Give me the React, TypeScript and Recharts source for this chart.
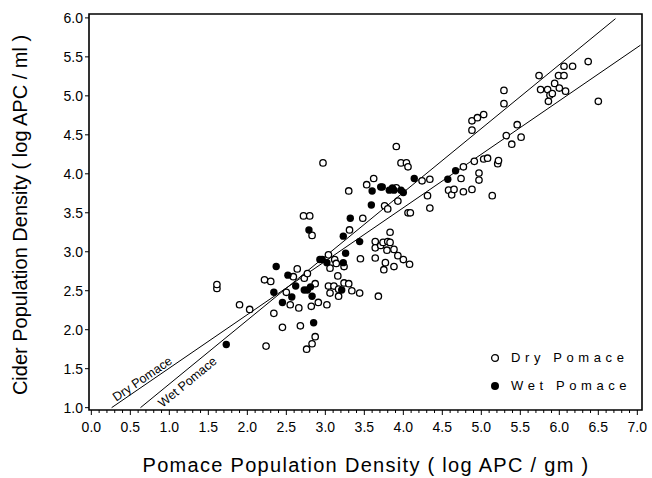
import React from "react";
import { ScatterChart, Scatter, XAxis, YAxis, ReferenceArea } from "recharts";

// Dry pomace samples (open circles): [pomace log APC/gm, cider log APC/ml]
const dryPoints: [number, number][] = [
  [1.61, 2.53], [1.61, 2.58], [1.9, 2.32], [2.03, 2.26], [2.24, 1.79], [2.22, 2.64], [2.3, 2.62],
  [2.34, 2.21], [2.45, 2.03], [2.5, 2.48], [2.55, 2.32], [2.59, 2.68], [2.64, 2.78], [2.66, 2.28],
  [2.68, 2.05], [2.72, 3.46], [2.8, 3.46], [2.73, 2.66], [2.77, 2.72], [2.76, 1.75], [2.82, 2.3],
  [2.83, 1.82], [2.83, 3.21], [2.87, 2.59], [2.87, 1.91], [2.91, 2.35], [2.97, 4.14], [3.02, 2.32],
  [3.04, 2.96], [3.04, 2.56], [3.06, 2.79], [3.06, 2.47], [3.11, 2.56], [3.12, 2.9], [3.14, 2.85],
  [3.16, 2.69], [3.17, 2.52], [3.17, 2.43], [3.24, 2.81], [3.24, 2.6], [3.3, 2.59], [3.3, 3.78],
  [3.31, 3.28], [3.34, 2.5], [3.44, 2.47], [3.45, 2.91], [3.48, 3.43], [3.53, 3.86], [3.62, 3.94],
  [3.64, 3.13], [3.64, 3.05], [3.64, 2.92], [3.68, 2.43], [3.71, 3.08], [3.74, 3.12], [3.75, 2.77],
  [3.76, 3.59], [3.77, 2.86], [3.79, 3.02], [3.8, 3.13], [3.8, 3.55], [3.83, 3.12], [3.83, 3.25],
  [3.88, 3.03], [3.88, 2.81], [3.91, 3.82], [3.91, 4.35], [3.93, 3.65], [3.93, 2.95], [3.97, 4.14],
  [4.0, 2.9], [4.04, 4.14], [4.06, 4.09], [4.06, 3.5], [4.08, 2.84], [4.09, 3.5], [4.24, 3.91],
  [4.31, 3.72], [4.34, 3.93], [4.34, 3.56], [4.58, 3.79], [4.62, 3.73], [4.65, 3.8], [4.74, 3.94],
  [4.77, 4.09], [4.77, 3.77], [4.88, 3.8], [4.88, 4.56], [4.88, 4.68], [4.91, 4.16], [4.95, 4.72],
  [4.97, 4.01], [4.97, 3.92], [5.03, 4.76], [5.03, 4.19], [5.08, 4.2], [5.14, 3.72], [5.21, 4.13],
  [5.22, 4.17], [5.29, 5.07], [5.29, 4.9], [5.32, 4.49], [5.39, 4.38], [5.46, 4.63], [5.51, 4.47],
  [5.74, 5.26], [5.76, 5.08], [5.85, 5.08], [5.86, 4.93], [5.88, 5.01], [5.91, 5.03], [5.94, 5.16],
  [5.99, 5.26], [6.0, 5.1], [6.06, 5.26], [6.06, 5.38], [6.08, 5.06], [6.17, 5.38], [6.37, 5.44],
  [6.5, 4.93],
];

// Wet pomace samples (filled circles)
const wetPoints: [number, number][] = [
  [1.73, 1.81], [2.37, 2.81], [2.52, 2.7], [2.34, 2.48], [2.62, 2.56], [2.73, 2.51], [2.77, 2.51],
  [2.81, 2.55], [2.93, 2.9], [2.96, 2.9], [3.02, 2.86], [2.45, 2.35], [2.57, 2.42], [2.83, 2.43],
  [2.85, 2.09], [2.79, 3.28], [3.26, 2.98], [3.23, 2.86], [3.21, 2.51], [3.23, 3.2], [3.44, 3.13],
  [3.32, 3.43], [3.59, 3.6], [3.6, 3.78], [3.71, 3.83], [3.73, 3.83], [3.82, 3.79], [3.86, 3.82],
  [3.88, 3.79], [3.97, 3.79], [4.0, 3.76], [4.14, 3.94], [4.57, 3.93], [4.67, 4.04],
];

// Regression line end points
const dryLine: [number, number][] = [[0.26, 1.0], [7.04, 5.65]];
const wetLine: [number, number][] = [[0.63, 1.0], [6.72, 5.99]];

// In-plot line labels
const lineLabels = [
  { x: 0.66, y: 1.36, text: "Dry Pomace", angle: -34.5 },
  { x: 1.24, y: 1.32, text: "Wet Pomace", angle: -39.5 },
];

const xMajorTicks = [0, 0.5, 1, 1.5, 2, 2.5, 3, 3.5, 4, 4.5, 5, 5.5, 6, 6.5, 7];
const yTicks = [1, 1.5, 2, 2.5, 3, 3.5, 4, 4.5, 5, 5.5, 6];
const xDomain: [number, number] = [-0.03, 7.06];
const yDomain: [number, number] = [0.97, 6.05];

// major ticks plus four minor ticks between each pair
const xAllTicks: number[] = [];
xMajorTicks.forEach((t, i) => {
  xAllTicks.push(t);
  if (i < xMajorTicks.length - 1) {
    for (let k = 1; k < 5; k++) xAllTicks.push(Math.round((t + k * 0.1) * 10) / 10);
  }
});

const toObj = (arr: [number, number][]) => arr.map(([x, y]) => ({ x, y }));

const FONT = "'Liberation Sans', Arial, Helvetica, sans-serif";

const XTick = (props: any) => {
  const { x, y, payload } = props;
  const v = payload.value as number;
  const major = xMajorTicks.some((m) => Math.abs(m - v) < 1e-6);
  return (
    <g>
      <line x1={x} x2={x} y1={y} y2={y + (major ? 5 : 3)} stroke="#000" strokeWidth={1} />
      {major && (
        <text x={x} y={y + 22} textAnchor="middle" fontSize={14} fontFamily={FONT} fill="#000">
          {v.toFixed(1)}
        </text>
      )}
    </g>
  );
};

const YTick = (props: any) => {
  const { x, y, payload } = props;
  const v = payload.value as number;
  return (
    <g>
      <line x1={x - 4} x2={x} y1={y} y2={y} stroke="#000" strokeWidth={1} />
      <text x={x - 6} y={y + 5} textAnchor="end" fontSize={14} fontFamily={FONT} fill="#000">
        {v.toFixed(1)}
      </text>
    </g>
  );
};

const OpenDot = (p: any) => (
  <circle cx={p.cx} cy={p.cy} r={3.2} fill="#fff" stroke="#000" strokeWidth={1.3} />
);
const FilledDot = (p: any) => <circle cx={p.cx} cy={p.cy} r={3.7} fill="#000" />;
const NoDot = () => null;

const LabelShape = (p: any) => {
  const d = p.payload;
  return (
    <text
      x={p.cx}
      y={p.cy}
      textAnchor="middle"
      dominantBaseline="middle"
      fontSize={12.5}
      fontFamily={FONT}
      fill="#000"
      transform={`rotate(${d.angle} ${p.cx} ${p.cy})`}
    >
      {d.text}
    </text>
  );
};

export default function App() {
  return (
    <div style={{ position: "absolute", left: 0, top: 0, width: 652, height: 478, background: "#fff" }}>
      <ScatterChart width={652} height={478} margin={{ top: 14, right: 10, bottom: 38, left: 29 }}>
        <XAxis
          type="number"
          dataKey="x"
          domain={xDomain}
          ticks={xAllTicks}
          interval={0}
          tick={<XTick />}
          tickLine={false}
          tickSize={0}
          tickMargin={0}
          axisLine={false}
          height={30}
          allowDataOverflow
        />
        <YAxis
          type="number"
          dataKey="y"
          domain={yDomain}
          ticks={yTicks}
          interval={0}
          tick={<YTick />}
          tickLine={false}
          tickSize={0}
          tickMargin={0}
          axisLine={false}
          width={60}
          allowDataOverflow
        />
        <ReferenceArea
          x1={xDomain[0]}
          x2={xDomain[1]}
          y1={yDomain[0]}
          y2={yDomain[1]}
          fill="none"
          stroke="#000"
          strokeWidth={1.6}
          ifOverflow="visible"
        />
        <Scatter data={toObj(dryLine)} line={{ stroke: "#000", strokeWidth: 1 }} shape={<NoDot />} isAnimationActive={false} />
        <Scatter data={toObj(wetLine)} line={{ stroke: "#000", strokeWidth: 1 }} shape={<NoDot />} isAnimationActive={false} />
        <Scatter data={toObj(dryPoints)} shape={<OpenDot />} isAnimationActive={false} />
        <Scatter data={toObj(wetPoints)} shape={<FilledDot />} isAnimationActive={false} />
        <Scatter data={lineLabels} shape={<LabelShape />} isAnimationActive={false} />
      </ScatterChart>

      <div
        style={{
          position: "absolute",
          left: 20,
          top: 215,
          transform: "translate(-50%, -50%) rotate(-90deg)",
          whiteSpace: "nowrap",
          fontFamily: FONT,
          fontSize: 20,
          color: "#000",
        }}
      >
        Cider Population Density ( log APC / ml )
      </div>
      <div
        style={{
          position: "absolute",
          left: 366,
          top: 465,
          transform: "translate(-50%, -50%)",
          whiteSpace: "nowrap",
          fontFamily: FONT,
          fontSize: 20,
          letterSpacing: 1.3,
          color: "#000",
        }}
      >
        Pomace Population Density ( log APC / gm )
      </div>

      <div style={{ position: "absolute", left: 489, top: 344, fontFamily: FONT, fontSize: 13, color: "#000", lineHeight: "28px" }}>
        <div style={{ display: "flex", alignItems: "center" }}>
          <svg width={12} height={12} style={{ marginRight: 10 }}>
            <circle cx={6} cy={6} r={3.4} fill="#fff" stroke="#000" strokeWidth={1.3} />
          </svg>
          <span style={{ letterSpacing: 4.6 }}>Dry Pomace</span>
        </div>
        <div style={{ display: "flex", alignItems: "center" }}>
          <svg width={12} height={12} style={{ marginRight: 10 }}>
            <circle cx={6} cy={6} r={4} fill="#000" />
          </svg>
          <span style={{ letterSpacing: 4.6 }}>Wet Pomace</span>
        </div>
      </div>
    </div>
  );
}
